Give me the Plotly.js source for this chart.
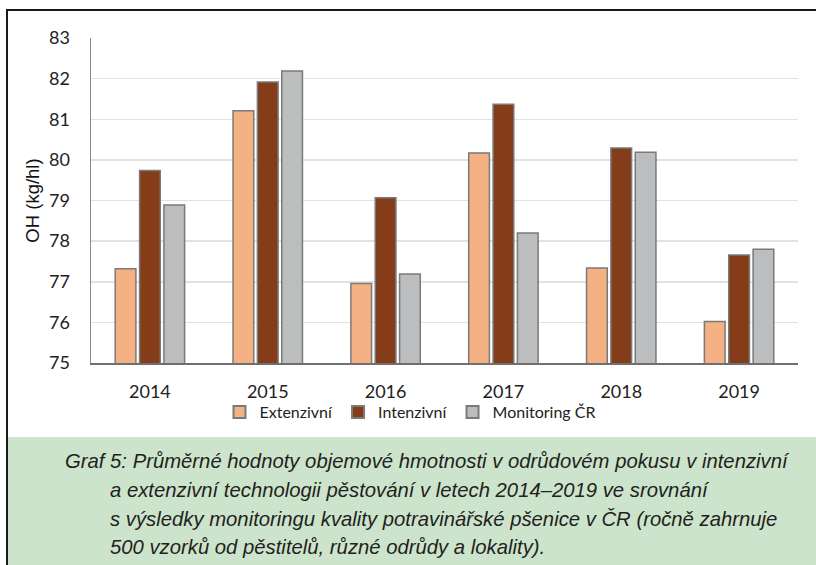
<!DOCTYPE html>
<html>
<head>
<meta charset="utf-8">
<script src="https://cdn.plot.ly/plotly-3.0.1.min.js"></script>
<style>html,body{margin:0;padding:0;background:#fff;}#chart{width:816px;height:565px;}</style>
</head>
<body>
<div id="chart"></div>
<script>
const years = ['2014', '2015', '2016', '2017', '2018', '2019'];
const extenzivni = [77.32, 81.21, 76.96, 80.17, 77.34, 76.02];
const intenzivni = [79.74, 81.92, 79.07, 81.37, 80.29, 77.66];
const monitoring = [78.89, 82.19, 77.19, 78.20, 80.19, 77.80];
const seriesNames = ['Extenzivní', 'Intenzivní', 'Monitoring ČR'];
const yTicks = [75, 76, 77, 78, 79, 80, 81, 82, 83];
const captionLines = [
  'Graf 5: Průměrné hodnoty objemové hmotnosti v odrůdovém pokusu v intenzivní',
  'a extenzivní technologii pěstování v letech 2014–2019 ve srovnání',
  's výsledky monitoringu kvality potravinářské pšenice v ČR (ročně zahrnuje',
  '500 vzorků od pěstitelů, různé odrůdy a lokality).'
];

const colors = ['#F4B183', '#843C19', '#BCBDBE'];
const allSeries = [extenzivni, intenzivni, monitoring];
const traces = allSeries.map((vals, i) => ({
  type: 'bar',
  x: years,
  y: vals,
  name: seriesNames[i],
  marker: {color: colors[i], line: {color: '#7a7a7a', width: 1.5}},
  hoverinfo: 'x+y+name'
}));

// pixel -> paper helpers (plot area: x 91..798, y 38..363)
const L = 91, R = 798, T = 38, B = 363;
const px = v => (v - L) / (R - L);
const py = v => (B - v) / (B - T);

const captionX = [63, 108, 108, 108];
const captionY = [461, 490, 519, 547];
const annotations = captionLines.map((t, i) => ({
  xref: 'paper', yref: 'paper',
  x: px(captionX[i]), y: py(captionY[i]),
  xanchor: 'left', yanchor: 'middle',
  text: '<i>' + t + '</i>',
  showarrow: false,
  font: {family: 'Liberation Sans, Arial, sans-serif', size: 20.3, color: '#231f20'}
}));

const layout = {
  width: 816, height: 565,
  margin: {l: L, r: 816 - R, t: T, b: 565 - B, pad: 0},
  paper_bgcolor: '#ffffff',
  plot_bgcolor: '#ffffff',
  barmode: 'group',
  bargap: 0.38,
  bargroupgap: 0.15,
  showlegend: true,
  legend: {
    orientation: 'h',
    x: px(410), xanchor: 'center',
    y: py(412), yanchor: 'middle',
    bgcolor: 'rgba(0,0,0,0)',
    font: {family: 'Lato, sans-serif', size: 16, color: '#222'},
    itemsizing: 'constant',
    itemwidth: 30,
    tracegroupgap: 0
  },
  xaxis: {
    type: 'category',
    showgrid: false,
    showline: true, linecolor: '#6f6f6f', linewidth: 2,
    ticks: '',
    ticklabelstandoff: 11,
    tickfont: {family: 'Lato, sans-serif', size: 18, color: '#222'},
    fixedrange: true
  },
  yaxis: {
    range: [75, 83],
    tickvals: yTicks,
    ticktext: yTicks.map(String),
    showgrid: true, gridcolor: '#e2e2e2', gridwidth: 1.5,
    zeroline: false,
    showline: true, linecolor: '#8a8a8a', linewidth: 1.5,
    ticks: '',
    ticklabelstandoff: 16,
    tickfont: {family: 'Lato, sans-serif', size: 18, color: '#222'},
    title: {text: 'OH (kg/hl)', font: {family: 'Liberation Sans, Arial, sans-serif', size: 18.5, color: '#111'}, standoff: 4},
    fixedrange: true
  },
  shapes: [
    {type: 'rect', xref: 'paper', yref: 'paper', layer: 'below',
     x0: px(8), x1: px(820), y0: py(570), y1: py(437),
     fillcolor: '#cde4cc', line: {width: 0}},
    {type: 'path', xref: 'paper', yref: 'paper', layer: 'above',
     path: 'M ' + px(7) + ' ' + py(570) + ' L ' + px(7) + ' ' + py(10) + ' L ' + px(820) + ' ' + py(10),
     line: {color: '#1a1a1a', width: 2}}
  ],
  annotations: annotations
};

Plotly.newPlot('chart', traces, layout, {displayModeBar: false, staticPlot: true});
</script>
</body>
</html>
